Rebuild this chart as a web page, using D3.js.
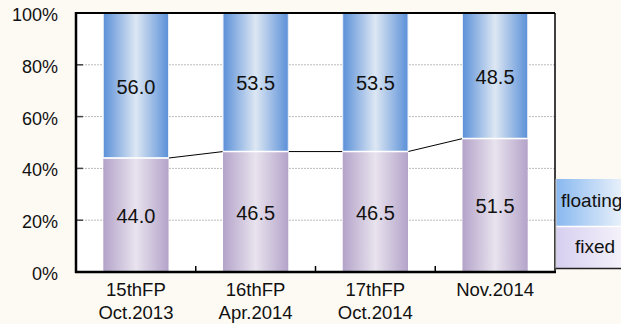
<!DOCTYPE html>
<html>
<head>
<meta charset="utf-8">
<script src="https://cdn.jsdelivr.net/npm/d3@7"></script>
<style>
  html, body { margin: 0; padding: 0; background: #fdf9f3; }
  svg { display: block; }
  text { font-family: "Liberation Sans", Arial, sans-serif; fill: #111; }
</style>
</head>
<body>
<svg id="chart" width="621" height="324"></svg>
<script>
// Fixed vs floating rate debt ratio by fiscal period
const periodsTop = ["15thFP", "16thFP", "17thFP", "Nov.2014"];
const periodsBottom = ["Oct.2013", "Apr.2014", "Oct.2014", ""];
const fixedRatio = [44.0, 46.5, 46.5, 51.5];
const floatingRatio = [56.0, 53.5, 53.5, 48.5];
const yTicks = [0, 20, 40, 60, 80, 100];
const legendLabels = ["floating", "fixed"];

const svg = d3.select("#chart");
const margin = { left: 76, right: 66, top: 13, bottom: 52 };
const W = 621, H = 324;
const plotW = W - margin.left - margin.right;
const plotH = H - margin.top - margin.bottom;

const x = d3.scaleBand().domain(periodsTop).range([0, plotW]).paddingInner(0.455).paddingOuter(0.228);
const y = d3.scaleLinear().domain([0, 100]).range([plotH, 0]);

const defs = svg.append("defs");
function hGrad(id, stops) {
  const g = defs.append("linearGradient").attr("id", id)
    .attr("x1", "0%").attr("x2", "100%").attr("y1", "0%").attr("y2", "0%");
  stops.forEach(([o, c]) => g.append("stop").attr("offset", o).attr("stop-color", c));
}
hGrad("gFloat", [["0%", "#5b90d8"], ["50%", "#dde7f3"], ["100%", "#5b90d8"]]);
hGrad("gFixed", [["0%", "#b4a3c9"], ["50%", "#e8e3ee"], ["100%", "#b4a3c9"]]);
hGrad("gLegFloat", [["0%", "#88b8f0"], ["100%", "#eef4fb"]]);
hGrad("gLegFixed", [["0%", "#d6cff0"], ["100%", "#f6f4fb"]]);

const g = svg.append("g").attr("transform", `translate(${margin.left},${margin.top})`);

// plot background
g.append("rect").attr("width", plotW).attr("height", plotH).attr("fill", "#fff");

// gridlines
g.selectAll(".grid").data(yTicks.filter(d => d > 0 && d < 100)).enter().append("line")
  .attr("x1", 0).attr("x2", plotW)
  .attr("y1", d => y(d)).attr("y2", d => y(d))
  .attr("stroke", "#bbb").attr("stroke-width", 1).attr("stroke-dasharray", "2,1");

// y axis labels
svg.append("g").selectAll("text").data(yTicks).enter().append("text")
  .attr("x", 58).attr("y", d => margin.top + y(d) + 8)
  .attr("text-anchor", "end").attr("font-size", 18).text(d => d + "%");

// y tick marks (inside)
g.selectAll(".ytick").data(yTicks.filter(d => d > 0 && d < 100)).enter().append("line")
  .attr("x1", 0).attr("x2", 7).attr("y1", d => y(d)).attr("y2", d => y(d))
  .attr("stroke", "#444").attr("stroke-width", 1.5);

// connector lines between top of fixed segments
const connectors = d3.range(fixedRatio.length - 1);
g.selectAll(".conn").data(connectors).enter().append("line")
  .attr("x1", i => x(periodsTop[i]) + x.bandwidth())
  .attr("x2", i => x(periodsTop[i + 1]))
  .attr("y1", i => y(fixedRatio[i]))
  .attr("y2", i => y(fixedRatio[i + 1]))
  .attr("stroke", "#000").attr("stroke-width", 1);

// bars
const bars = g.selectAll(".bar").data(periodsTop).enter().append("g");
bars.append("rect")
  .attr("x", d => x(d)).attr("width", x.bandwidth())
  .attr("y", (d, i) => y(fixedRatio[i]))
  .attr("height", (d, i) => y(0) - y(fixedRatio[i]))
  .attr("fill", "url(#gFixed)");
bars.append("rect")
  .attr("x", d => x(d)).attr("width", x.bandwidth())
  .attr("y", (d, i) => y(fixedRatio[i] + floatingRatio[i]))
  .attr("height", (d, i) => y(fixedRatio[i]) - y(fixedRatio[i] + floatingRatio[i]))
  .attr("fill", "url(#gFloat)")
  .attr("stroke", "#e9f0f8").attr("stroke-width", 1);
bars.append("line")
  .attr("x1", d => x(d)).attr("x2", d => x(d) + x.bandwidth())
  .attr("y1", (d, i) => y(fixedRatio[i])).attr("y2", (d, i) => y(fixedRatio[i]))
  .attr("stroke", "#fff").attr("stroke-width", 1.5);

// value labels
bars.append("text")
  .attr("x", d => x(d) + x.bandwidth() / 2)
  .attr("y", (d, i) => y(fixedRatio[i] / 2) + 8)
  .attr("text-anchor", "middle").attr("font-size", 20)
  .text((d, i) => fixedRatio[i].toFixed(1));
bars.append("text")
  .attr("x", d => x(d) + x.bandwidth() / 2)
  .attr("y", (d, i) => y(fixedRatio[i] + floatingRatio[i] / 2) + 8)
  .attr("text-anchor", "middle").attr("font-size", 20)
  .text((d, i) => floatingRatio[i].toFixed(1));

// x tick marks between categories (inside)
g.selectAll(".xtick").data(d3.range(1, periodsTop.length)).enter().append("line")
  .attr("x1", i => i * plotW / periodsTop.length).attr("x2", i => i * plotW / periodsTop.length)
  .attr("y1", plotH).attr("y2", plotH - 6)
  .attr("stroke", "#000").attr("stroke-width", 1.5);

// frame
g.append("line").attr("x1", 0).attr("x2", plotW).attr("y1", 0).attr("y2", 0).attr("stroke", "#000").attr("stroke-width", 2);
g.append("line").attr("x1", plotW).attr("x2", plotW).attr("y1", 0).attr("y2", plotH).attr("stroke", "#000").attr("stroke-width", 1.5);
g.append("line").attr("x1", 0).attr("x2", 0).attr("y1", -1).attr("y2", plotH + 1).attr("stroke", "#000").attr("stroke-width", 2.5);
g.append("line").attr("x1", -1).attr("x2", plotW + 1).attr("y1", plotH).attr("y2", plotH).attr("stroke", "#000").attr("stroke-width", 2.5);

// x axis labels (two lines)
const xl = svg.append("g");
xl.selectAll(".l1").data(periodsTop).enter().append("text")
  .attr("x", d => margin.left + x(d) + x.bandwidth() / 2).attr("y", 296)
  .attr("text-anchor", "middle").attr("font-size", 18.5).text(d => d);
xl.selectAll(".l2").data(periodsBottom).enter().append("text")
  .attr("x", (d, i) => margin.left + x(periodsTop[i]) + x.bandwidth() / 2).attr("y", 319)
  .attr("text-anchor", "middle").attr("font-size", 18.5).text(d => d);

// legend
const lg = svg.append("g").attr("transform", "translate(556,179)");
lg.append("rect").attr("x", 0).attr("y", 0).attr("width", 70).attr("height", 47).attr("fill", "url(#gLegFloat)");
lg.append("rect").attr("x", 0).attr("y", 48).attr("width", 70).attr("height", 41).attr("fill", "url(#gLegFixed)");
lg.append("line").attr("x1", 0).attr("x2", 70).attr("y1", 47.5).attr("y2", 47.5).attr("stroke", "#fff").attr("stroke-width", 1.5);
lg.append("line").attr("x1", 0).attr("x2", 0).attr("y1", 0).attr("y2", 89).attr("stroke", "#ccc").attr("stroke-width", 1);
lg.append("line").attr("x1", 0).attr("x2", 70).attr("y1", 89.5).attr("y2", 89.5).attr("stroke", "#222").attr("stroke-width", 1.5);
lg.append("text").attr("x", 5).attr("y", 28).attr("font-size", 19).text(legendLabels[0]);
lg.append("text").attr("x", 39).attr("y", 74).attr("text-anchor", "middle").attr("font-size", 19).text(legendLabels[1]);
</script>
</body>
</html>
